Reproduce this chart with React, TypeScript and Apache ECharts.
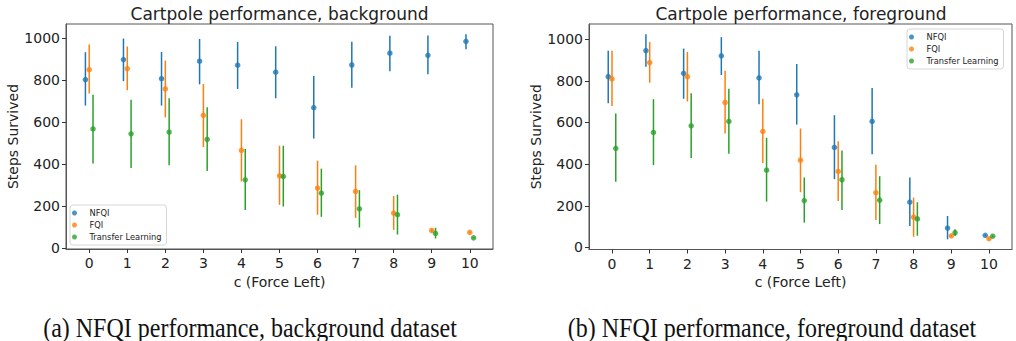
import React, { useEffect, useRef } from "react";
import * as echarts from "echarts";

const C = [0, 1, 2, 3, 4, 5, 6, 7, 8, 9, 10];
const yTicks = [0, 200, 400, 600, 800, 1000];
const seriesNames = ["NFQI", "FQI", "Transfer Learning"];

// Background dataset
const bgNfqiMean = [802, 897, 806, 889, 870, 837, 668, 871, 927, 917, 983];
const bgNfqiLow = [678, 794, 678, 779, 757, 713, 522, 763, 841, 827, 946];
const bgNfqiHigh = [932, 997, 933, 995, 981, 960, 819, 981, 1010, 1011, 1017];
const bgFqiMean = [849, 854, 757, 632, 465, 344, 286, 270, 167, 84, 75];
const bgFqiLow = [735, 751, 622, 481, 317, 206, 159, 144, 87, 76, 71];
const bgFqiHigh = [968, 959, 892, 781, 613, 487, 416, 394, 248, 92, 79];
const bgTlMean = [567, 544, 552, 517, 325, 341, 262, 187, 159, 70, 49];
const bgTlLow = [403, 381, 394, 367, 181, 198, 149, 98, 65, 46, 45];
const bgTlHigh = [730, 706, 713, 670, 471, 487, 378, 276, 254, 97, 53];

// Foreground dataset
const fgNfqiMean = [820, 945, 836, 920, 814, 733, 480, 605, 218, 93, 58];
const fgNfqiLow = [692, 868, 714, 828, 687, 590, 328, 447, 103, 39, 55];
const fgNfqiHigh = [945, 1024, 955, 1010, 944, 881, 635, 766, 336, 151, 61];
const fgFqiMean = [809, 888, 820, 696, 557, 419, 365, 263, 146, 56, 42];
const fgFqiLow = [679, 791, 701, 547, 405, 265, 223, 132, 51, 51, 39];
const fgFqiHigh = [944, 986, 939, 849, 714, 571, 510, 397, 239, 61, 45];
const fgTlMean = [476, 552, 584, 605, 371, 225, 325, 227, 137, 71, 54];
const fgTlLow = [315, 395, 430, 450, 220, 119, 180, 112, 56, 55, 49];
const fgTlHigh = [643, 712, 741, 762, 526, 336, 465, 342, 217, 87, 59];

const COLORS = ["#1f77b4", "#ff7f0e", "#2ca02c"];
const OFFSETS = [-0.1, 0, 0.1];
const FONT = "DejaVu Sans";

function buildSeries(
  gridIndex: number,
  means: number[][],
  lows: number[][],
  highs: number[][]
) {
  const out: any[] = [];
  for (let s = 0; s < 3; s++) {
    const color = COLORS[s];
    const off = OFFSETS[s];
    out.push({
      type: "custom",
      name: seriesNames[s] + "_err" + gridIndex,
      xAxisIndex: gridIndex,
      yAxisIndex: gridIndex,
      data: C.map((c, i) => [c + off, lows[s][i], highs[s][i]]),
      encode: { x: 0, y: [1, 2] },
      silent: true,
      renderItem: (params: any, api: any) => {
        const x = api.value(0);
        const p1 = api.coord([x, api.value(1)]);
        const p2 = api.coord([x, api.value(2)]);
        return {
          type: "line",
          shape: { x1: p1[0], y1: p1[1], x2: p2[0], y2: p2[1] },
          style: { stroke: color, lineWidth: 1.5 },
        };
      },
    });
    out.push({
      type: "scatter",
      name: seriesNames[s],
      xAxisIndex: gridIndex,
      yAxisIndex: gridIndex,
      data: C.map((c, i) => [c + off, means[s][i]]),
      symbol: "circle",
      symbolSize: 5.5,
      itemStyle: { color },
      z: 3,
    });
  }
  return out;
}

function xAxis(gridIndex: number) {
  return {
    type: "value",
    gridIndex,
    min: -0.61,
    max: 10.61,
    name: "c (Force Left)",
    nameLocation: "middle",
    nameGap: 24,
    nameTextStyle: { fontFamily: FONT, fontSize: 14, color: "#222" },
    axisLine: { show: true, onZero: false, lineStyle: { color: "#555", width: 1 } },
    axisTick: { show: true, customValues: C, length: 4, lineStyle: { color: "#333" } },
    axisLabel: {
      customValues: C,
      fontFamily: FONT,
      fontSize: 14,
      color: "#222",
      margin: 7,
      formatter: (v: number) => String(v),
    },
    splitLine: { show: false },
  };
}

function yAxis(gridIndex: number, min: number, max: number) {
  return {
    type: "value",
    gridIndex,
    min,
    max,
    name: "Steps Survived",
    nameLocation: "middle",
    nameGap: 42,
    nameTextStyle: { fontFamily: FONT, fontSize: 14, color: "#222" },
    axisLine: { show: true, onZero: false, lineStyle: { color: "#555", width: 1 } },
    axisTick: { show: true, customValues: yTicks, length: 4, lineStyle: { color: "#333" } },
    axisLabel: {
      customValues: yTicks,
      fontFamily: FONT,
      fontSize: 14,
      color: "#222",
      margin: 6,
      formatter: (v: number) => String(v),
    },
    splitLine: { show: false },
  };
}

function legend(left: number, top: number) {
  return {
    orient: "vertical",
    left,
    top,
    data: seriesNames,
    icon: "circle",
    itemWidth: 20,
    itemHeight: 5,
    itemGap: 2,
    padding: [3, 5, 3, 2],
    borderColor: "#d6d6d6",
    borderWidth: 1,
    borderRadius: 3,
    backgroundColor: "rgba(255,255,255,0.8)",
    selectedMode: false,
    textStyle: { fontFamily: FONT, fontSize: 8.3, color: "#222", lineHeight: 10 },
  };
}

export default function App() {
  const ref = useRef<HTMLDivElement>(null);
  useEffect(() => {
    if (!ref.current) return;
    const chart = echarts.init(ref.current, undefined, { renderer: "svg" });
    const titleStyle = { fontFamily: FONT, fontSize: 17, fontWeight: "normal", color: "#222" };
    const option: any = {
      animation: false,
      backgroundColor: "#ffffff",
      title: [
        {
          text: "Cartpole performance, background",
          left: 279.5,
          top: 5,
          padding: 0,
          textAlign: "center",
          textStyle: titleStyle,
        },
        {
          text: "Cartpole performance, foreground",
          left: 801,
          top: 5,
          padding: 0,
          textAlign: "center",
          textStyle: titleStyle,
        },
      ],
      grid: [
        { left: 66, right: 523, top: 24, bottom: 92, show: true, borderColor: "#555", borderWidth: 1 },
        { left: 589, right: 4, top: 24, bottom: 91.5, show: true, borderColor: "#555", borderWidth: 1 },
      ],
      legend: [legend(70, 205), legend(907, 29)],
      xAxis: [xAxis(0), xAxis(1)],
      yAxis: [yAxis(0, -4, 1066), yAxis(1, -10, 1073)],
      series: [
        ...buildSeries(
          0,
          [bgNfqiMean, bgFqiMean, bgTlMean],
          [bgNfqiLow, bgFqiLow, bgTlLow],
          [bgNfqiHigh, bgFqiHigh, bgTlHigh]
        ),
        ...buildSeries(
          1,
          [fgNfqiMean, fgFqiMean, fgTlMean],
          [fgNfqiLow, fgFqiLow, fgTlLow],
          [fgNfqiHigh, fgFqiHigh, fgTlHigh]
        ),
      ],
      graphic: [
        {
          type: "text",
          x: 250,
          y: 341,
          scaleY: 1.1,
          style: {
            text: "(a) NFQI performance, background dataset",
            font: "24px 'Liberation Serif'",
            fill: "#111",
            align: "center",
            verticalAlign: "bottom",
          },
        },
        {
          type: "text",
          x: 772,
          y: 341,
          scaleY: 1.1,
          style: {
            text: "(b) NFQI performance, foreground dataset",
            font: "24px 'Liberation Serif'",
            fill: "#111",
            align: "center",
            verticalAlign: "bottom",
          },
        },
      ],
    };
    chart.setOption(option);
    return () => chart.dispose();
  }, []);
  return (
    <div
      ref={ref}
      style={{ position: "fixed", left: 0, top: 0, width: 1016, height: 341 }}
    />
  );
}
